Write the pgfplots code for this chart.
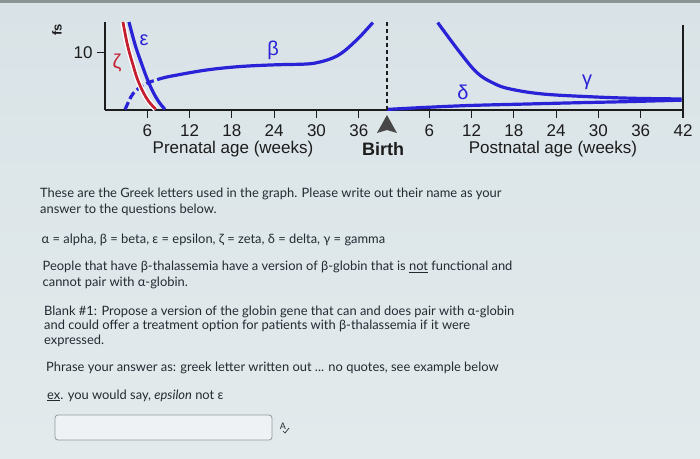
\documentclass[border=0pt]{standalone}
\usepackage{fontspec}
\setmainfont{Lato}
\newfontfamily\chartfont{Liberation Sans}
\usepackage{pgfplots}
\pgfplotsset{compat=1.18}
\definecolor{bgtop}{HTML}{D9E3E7}
\definecolor{bgbot}{HTML}{E3EAEC}
\definecolor{gb}{HTML}{2A22D6}
\definecolor{gr}{HTML}{C42032}
\definecolor{txt}{HTML}{222B32}
\definecolor{ink}{HTML}{1C1C1C}
\begin{document}
\begin{tikzpicture}
\shade[top color=bgtop, bottom color=bgbot] (0pt,0pt) rectangle (700pt,458pt);
\useasboundingbox (0pt,0pt) rectangle (700pt,458pt);
\fill[black!35!bgtop] (0pt,455pt) rectangle (700pt,458pt);
\begin{axis}[
  at={(105pt,348pt)}, anchor=south west,
  scale only axis, width=578pt, height=88pt,
  xmin=0, xmax=82, ymin=0, ymax=15.4,
  axis x line*=bottom, axis y line*=left,
  axis line style={ink, line width=1.2pt, -},
  xtick={6,12,18,24,30,36,46,52,58,64,70,76,82},
  xticklabels={6,12,18,24,30,36,6,12,18,24,30,36,42},
  ytick={10}, yticklabels={10},
  tick align=outside, major tick length=8pt,
  tick style={ink, line width=1.2pt},
  ticklabel style={font=\chartfont\fontsize{17}{17}\selectfont, text=ink},
  xticklabel style={anchor=base, yshift=-18.5pt},
  yticklabel style={anchor=east, xshift=-1pt},
  clip=false,
]
% beta, dashed early part
\addplot[gb, line width=3.2pt, smooth, tension=0.6, dash pattern=on 8pt off 3.5pt]
  coordinates {(2.85,0.1) (3.4,1.6) (4.0,2.9) (5.0,4.0) (6.0,4.7) (7.1,5.2) (8.2,5.6)};
% beta, solid
\addplot[gb, line width=3.2pt, smooth, tension=0.6]
  coordinates {(8.2,5.6) (9.7,6.0) (14.4,7.0) (19.1,7.6) (24,7.9) (28.6,8.05) (30.5,8.4) (32.3,9.1) (33.5,9.9) (34.7,11.1) (36.3,13) (38,15.3)};
% zeta
\addplot[white, line width=5.5pt, smooth, tension=0.6]
  coordinates {(2.55,15.4) (3.2,11.3) (3.97,7.9) (4.6,5.4) (5.39,3.2) (6.2,1.5) (7.2,0.15)};
\addplot[gr, line width=2.8pt, smooth, tension=0.6]
  coordinates {(2.55,15.4) (3.2,11.3) (3.97,7.9) (4.6,5.4) (5.39,3.2) (6.2,1.5) (7.2,0.15)};
% epsilon
\addplot[gb, line width=3.2pt, smooth, tension=0.6]
  coordinates {(3.4,15.4) (4.3,11.3) (5.25,7.9) (6.0,5.4) (6.8,3.2) (7.6,1.5) (8.5,0.1)};
% delta
\addplot[gb, line width=3.2pt, smooth, tension=0.6]
  coordinates {(40,0.1) (45.7,0.47) (52,0.8) (59.9,1.05) (67,1.27) (74,1.46) (81.8,1.72)};
% gamma
\addplot[gb, line width=3.2pt, smooth, tension=0.6]
  coordinates {(47.2,15.3) (50.4,10) (52.8,6.5) (55.1,4.7) (57.4,3.7) (62.1,2.8) (69.2,2.3) (75,2.05) (81.8,1.93)};
% right frame line and birth marker
\draw[ink, line width=1.2pt] (axis cs:82,0) -- (axis cs:82,14.9);
\draw[ink, line width=1.4pt, dash pattern=on 4pt off 3pt] (axis cs:40,0) -- (axis cs:40,15.4);
\fill[black!72] (axis cs:40,0) ++(0,-5pt) -- ++(-10pt,-18pt) -- ++(10pt,3pt) -- ++(10pt,-3pt) -- cycle;
\end{axis}
% chart labels
\begin{scope}[font=\chartfont, text=ink]
\node[anchor=base] at (233pt,304pt) {\fontsize{17}{17}\selectfont Prenatal age (weeks)};
\node[anchor=base] at (553pt,304pt) {\fontsize{17}{17}\selectfont Postnatal age (weeks)};
\node[anchor=base] at (383pt,302pt) {\fontsize{18}{18}\selectfont\bfseries Birth};
\node[rotate=90] at (57pt,428pt) {\fontsize{13}{13}\selectfont\bfseries fs};
\node[text=gb] at (144pt,418pt) {\fontsize{20}{20}\selectfont ε};
\node[text=gr] at (117pt,395pt) {\fontsize{20}{20}\selectfont ζ};
\node[text=gb] at (273pt,408pt) {\fontsize{20}{20}\selectfont β};
\node[text=gb] at (463pt,366pt) {\fontsize{20}{20}\selectfont δ};
\node[text=gb] at (587pt,376pt) {\fontsize{20}{20}\selectfont γ};
\end{scope}
% question text
\begin{scope}[every node/.style={anchor=base west, inner sep=0pt, text=txt, font=\fontsize{12.9}{13}\selectfont}]
\node at (40pt,260pt) {These are the Greek letters used in the graph. Please write out their name as your};
\node at (40pt,244.7pt) {answer to the questions below.};
\node at (41.5pt,214.7pt) {α = alpha, β = beta, ε = epsilon, ζ = zeta, δ = delta, γ = gamma};
\node at (42.5pt,187.3pt) {People that have β-thalassemia have a version of β-globin that is \underline{not} functional and};
\node at (42.5pt,172pt) {cannot pair with α-globin.};
\node at (44pt,143pt) {Blank \#1: Propose a version of the globin gene that can and does pair with α-globin};
\node at (44pt,128.7pt) {and could offer a treatment option for patients with β-thalassemia if it were};
\node at (44pt,113.7pt) {expressed.};
\node at (46pt,87pt) {Phrase your answer as: greek letter written out ... no quotes, see example below};
\node at (47pt,59pt) {\underline{ex}. you would say, \textit{epsilon} not ε};
\end{scope}
\draw[black!35!bgbot, line width=0.8pt, fill=bgbot!60!white, rounded corners=3pt] (55pt,18pt) rectangle (272pt,43pt);
\node[text=txt, inner sep=0pt] at (283pt,32pt) {\fontsize{9}{9}\selectfont A};
\draw[txt, line width=0.7pt] (283pt,27pt) -- (285pt,25pt) -- (289pt,30pt);
\end{tikzpicture}
\end{document}
